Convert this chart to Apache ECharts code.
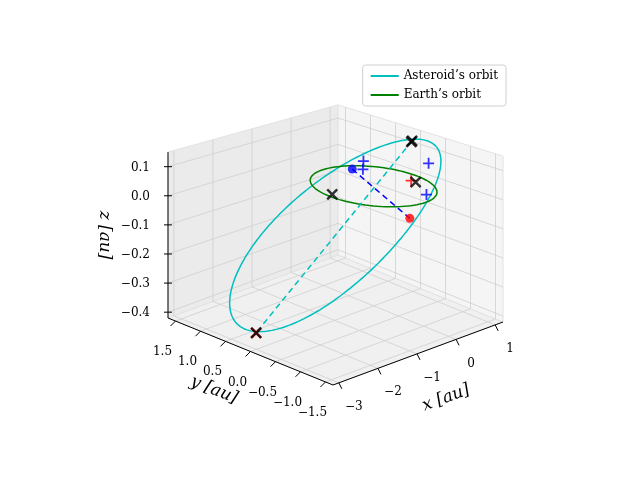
<!DOCTYPE html>
<html>
<head>
<meta charset="utf-8">
<script src="https://cdn.jsdelivr.net/npm/echarts@6/dist/echarts.min.js"></script>
<style>html,body{margin:0;padding:0;background:#fff}#chart{width:640px;height:480px}</style>
</head>
<body>
<div id="chart"></div>
<script>
// axis ranges and ticks
var xRange = [-3.15, 1.2], yRange = [-1.65, 1.65], zRange = [-0.42, 0.15];
var xTicks = [-3, -2, -1, 0, 1];
var yTicks = [1.5, 1.0, 0.5, 0.0, -0.5, -1.0, -1.5];
var zTicks = [-0.4, -0.3, -0.2, -0.1, 0.0, 0.1];
var xTickLabels = ['\u22123', '\u22122', '\u22121', '0', '1'];
var yTickLabels = ['1.5', '1.0', '0.5', '0.0', '\u22120.5', '\u22121.0', '\u22121.5'];
var zTickLabels = ['\u22120.4', '\u22120.3', '\u22120.2', '\u22120.1', '0.0', '0.1'];

// asteroid orbit elements (a, e) and directions
var astA = 1.8, astE = 0.49;
var apsisDir = [-0.985, 0.1, -0.148];   // towards aphelion
var earthR = 1.0;

// marked points [x, y, z]
var blueNode = [0.4, 0.74, 0];
var redNode = [-0.8, -1.35, 0];
var blackCross = [[-0.88, 0.14, 0], [0.73, -0.27, 0], [0.87, -0.09, 0.131], [0.85, -0.09, 0.128], [-2.66, 0.27, -0.4]];
var redCross = [[-2.66, 0.27, -0.4]];
var bluePlus = [[0.2, 0.36, 0.06], [0.2, 0.37, 0.03], [1.1, -0.24, 0.05], [0.38, -0.76, 0]];
var redPlus = [[0.73, -0.18, 0]];

// simple projection onto the page (pixel space of hidden axes)
var P0 = [333, 385], EX = [170, -63], EY = [-165, -67], ZS = 291;
function proj(p) {
  var fx = (p[0] - xRange[0]) / (xRange[1] - xRange[0]);
  var fy = (p[1] - yRange[0]) / (yRange[1] - yRange[0]);
  var fz = p[2] - zRange[0];
  var t = (fx + fy) / 2;
  var zs = ZS * (1 - 0.19 * (t - 0.5));
  var sx = P0[0] + EX[0] * fx + EY[0] * fy;
  var sy = P0[1] + EX[1] * fx + EY[1] * fy - fz * zs;
  return [sx, sy];
}
function norm(v) { var l = Math.hypot(v[0], v[1], v[2]); return [v[0] / l, v[1] / l, v[2] / l]; }
var d = norm(apsisDir);
var n0 = norm([blueNode[0] - redNode[0], blueNode[1] - redNode[1], 0]);
var nd = n0[0] * d[0] + n0[1] * d[1] + n0[2] * d[2];
var w = norm([n0[0] - nd * d[0], n0[1] - nd * d[1], n0[2] - nd * d[2]]);
var astB = astA * Math.sqrt(1 - astE * astE);

var astOrbit = [], earthOrbit = [];
for (var i = 0; i <= 200; i++) {
  var E = i / 200 * 2 * Math.PI;
  var u = -astA * (Math.cos(E) - astE), v = astB * Math.sin(E);
  astOrbit.push(proj([u * d[0] + v * w[0], u * d[1] + v * w[1], u * d[2] + v * w[2]]));
  earthOrbit.push(proj([earthR * Math.cos(E), earthR * Math.sin(E), 0]));
}
var aph = [astA * (1 + astE) * d[0], astA * (1 + astE) * d[1], astA * (1 + astE) * d[2]];
var per = [-astA * (1 - astE) * d[0], -astA * (1 - astE) * d[1], -astA * (1 - astE) * d[2]];

var x0 = xRange[0], x1 = xRange[1], y0 = yRange[0], y1 = yRange[1], z0 = zRange[0], z1 = zRange[1];
var panes = [
  { pts: [[x0, y0, z0], [x1, y0, z0], [x1, y1, z0], [x0, y1, z0]], color: '#f0f0f0' },
  { pts: [[x0, y1, z0], [x1, y1, z0], [x1, y1, z1], [x0, y1, z1]], color: '#ebebeb' },
  { pts: [[x1, y0, z0], [x1, y1, z0], [x1, y1, z1], [x1, y0, z1]], color: '#f5f5f5' }
];
var gridSegs = [];
xTicks.forEach(function (x) {
  gridSegs.push([[x, y0, z0], [x, y1, z0]]);
  gridSegs.push([[x, y1, z0], [x, y1, z1]]);
});
yTicks.forEach(function (y) {
  gridSegs.push([[x0, y, z0], [x1, y, z0]]);
  gridSegs.push([[x1, y, z0], [x1, y, z1]]);
});
zTicks.forEach(function (z) {
  gridSegs.push([[x0, y1, z], [x1, y1, z]]);
  gridSegs.push([[x1, y1, z], [x1, y0, z]]);
});
var axisSegs = [
  [[x0, y0, z0], [x1, y0, z0]],
  [[x0, y0, z0], [x0, y1, z0]],
  [[x0, y1, z0], [x0, y1, z1]]
];
var tickSegs = [], tickTexts = [];
xTicks.forEach(function (x, k) {
  var p = proj([x, y0, z0]);
  tickSegs.push([p, [p[0] + 3, p[1] + 6]]);
  tickTexts.push({ p: [p[0] + 15, p[1] + 24], s: xTickLabels[k], align: 'center' });
});
yTicks.forEach(function (y, k) {
  var p = proj([x0, y, z0]);
  tickSegs.push([p, [p[0] - 5, p[1] + 5]]);
  tickTexts.push({ p: [p[0] - 13, p[1] + 31], s: yTickLabels[k], align: 'center' });
});
zTicks.forEach(function (z, k) {
  var p = proj([x0, y1, z]);
  tickSegs.push([[p[0] - 4, p[1]], [p[0] + 4, p[1]]]);
  tickTexts.push({ p: [p[0] - 18, p[1] + 1], s: zTickLabels[k], align: 'right' });
});

function segSeries(segs, color, width, is3d) {
  var data = [];
  segs.forEach(function (s) {
    var a = is3d ? proj(s[0]) : s[0], b = is3d ? proj(s[1]) : s[1];
    data.push(a, b, [null, null]);
  });
  return { type: 'line', data: data, showSymbol: false, connectNulls: false, silent: true,
    lineStyle: { color: color, width: width }, z: 2 };
}
function markSeries(pts, symbol, color, size, width) {
  return { type: 'scatter', data: pts.map(proj), symbol: symbol, symbolSize: size, silent: true, z: 10,
    itemStyle: { color: 'none', borderColor: color, borderWidth: width } };
}
var crossPath = 'path://M0,0L10,10M10,0L0,10';
var plusPath = 'path://M5,0L5,10M0,5L10,5';

var chart = echarts.init(document.getElementById('chart'));
var option = {
  animation: false,
  textStyle: { fontFamily: 'DejaVu Serif' },
  grid: { left: 0, top: 0, width: 640, height: 480 },
  xAxis: { type: 'value', min: 0, max: 640, show: false },
  yAxis: { type: 'value', min: 0, max: 480, inverse: true, show: false },
  legend: {
    right: 134, top: 65, orient: 'vertical', itemWidth: 28, itemHeight: 2, itemGap: 7,
    padding: [5, 8], backgroundColor: '#fff', borderColor: '#d0d0d0', borderWidth: 1, borderRadius: 3,
    textStyle: { fontFamily: 'DejaVu Serif', fontSize: 12, color: '#000' },
    data: [{ name: 'Asteroid\u2019s orbit', icon: 'rect' }, { name: 'Earth\u2019s orbit', icon: 'rect' }]
  },
  series: [
    { type: 'custom', silent: true, z: 1, data: panes.map(function (p, i) { return i; }),
      renderItem: function (params, api) {
        var pn = panes[params.dataIndex];
        return { type: 'polygon', shape: { points: pn.pts.map(function (q) { return api.coord(proj(q)); }) },
          style: { fill: pn.color, stroke: '#e2e2e2', lineWidth: 1 } };
      } },
    segSeries(gridSegs, '#cfcfcf', 0.8, true),
    segSeries(axisSegs, '#000', 1, true),
    segSeries(tickSegs, '#000', 1, false),
    { type: 'custom', silent: true, z: 3, data: tickTexts.map(function (t, i) { return i; }),
      renderItem: function (params, api) {
        var t = tickTexts[params.dataIndex], c = api.coord(t.p);
        return { type: 'text', x: c[0], y: c[1], style: { text: t.s, fill: '#000', font: '12px DejaVu Serif',
          align: t.align, verticalAlign: 'middle' } };
      } },
    { name: 'Asteroid\u2019s orbit', type: 'line', data: astOrbit, showSymbol: false, z: 5,
      lineStyle: { color: '#00bfbf', width: 1.5 }, itemStyle: { color: '#00bfbf' } },
    { name: 'Earth\u2019s orbit', type: 'line', data: earthOrbit, showSymbol: false, z: 5,
      lineStyle: { color: '#008000', width: 1.5 }, itemStyle: { color: '#008000' } },
    { type: 'line', data: [proj(aph), proj(per)], showSymbol: false, z: 5,
      lineStyle: { color: '#00bfbf', width: 1.5, type: [6, 4] } },
    { type: 'line', data: [proj(blueNode), proj(redNode)], showSymbol: false, z: 5,
      lineStyle: { color: '#0000ff', width: 1.5, type: [6, 4] } },
    { type: 'scatter', data: [proj(blueNode)], symbolSize: 9, itemStyle: { color: '#0000ff' }, z: 9 },
    { type: 'scatter', data: [proj(redNode)], symbolSize: 9, itemStyle: { color: '#ff0000' }, z: 9 },
    markSeries(bluePlus, plusPath, '#0000ff', 11, 1.8),
    markSeries(redPlus, plusPath, '#ff0000', 11, 1.8),
    markSeries(redCross, crossPath, '#ff0000', 10, 2.4),
    markSeries(blackCross, crossPath, '#000', 10, 2.4)
  ],
  graphic: [
    { type: 'text', x: 446, y: 398, rotation: 0.36, style: { text: 'x [au]', font: 'italic 17px DejaVu Serif', fill: '#000', align: 'center', verticalAlign: 'middle' } },
    { type: 'text', x: 214, y: 390, rotation: -0.38, style: { text: 'y [au]', font: 'italic 17px DejaVu Serif', fill: '#000', align: 'center', verticalAlign: 'middle' } },
    { type: 'text', x: 104, y: 235, rotation: -Math.PI / 2, style: { text: 'z [au]', font: 'italic 17px DejaVu Serif', fill: '#000', align: 'center', verticalAlign: 'middle' } }
  ]
};
chart.setOption(option);
</script>
</body>
</html>
